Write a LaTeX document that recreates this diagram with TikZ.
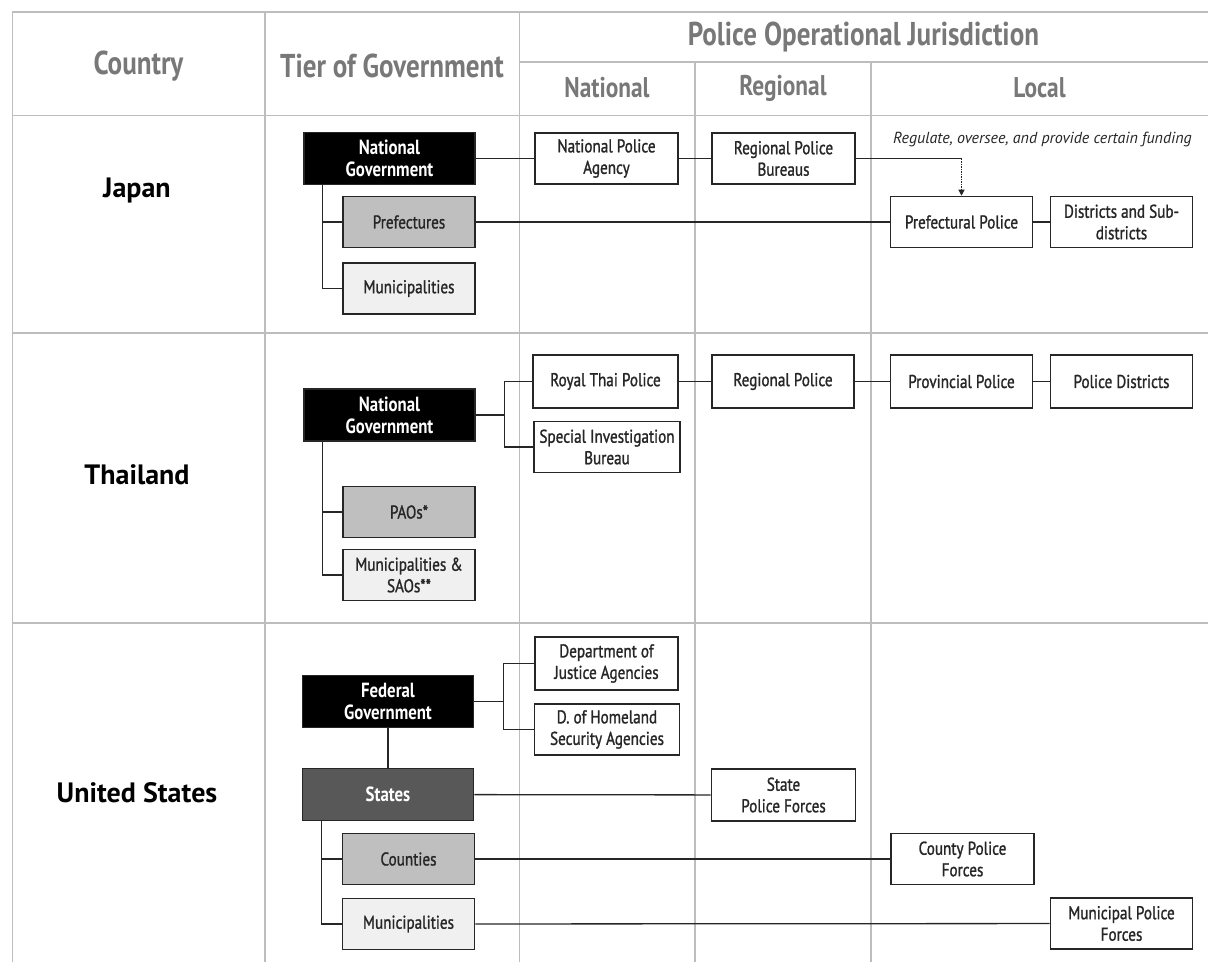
\documentclass[tikz,border=0pt]{standalone}
\usepackage{fontspec}
\setmainfont{PT Sans}[FakeStretch=0.82]
\newfontfamily\boxfont{PT Sans}[FakeStretch=0.82, FakeBold=1.2]
\newfontfamily\widefont{PT Sans}
\usepackage{xcolor}
\usetikzlibrary{arrows.meta}
\definecolor{gridgrey}{HTML}{BDBDBD}
\definecolor{hdrgrey}{HTML}{787878}
\definecolor{midgrey}{HTML}{BFBFBF}
\definecolor{palegrey}{HTML}{F0F0F0}
\definecolor{darkgrey}{HTML}{585858}
\definecolor{inkgrey}{HTML}{262626}
\tikzset{
    gridline/.style={draw=gridgrey, line width=1.6pt},
    header/.style={text=hdrgrey, font=\bfseries\fontsize{33}{36}\selectfont},
    subheader/.style={text=hdrgrey, font=\bfseries\fontsize{28.5}{31}\selectfont},
    country/.style={font=\widefont\bfseries\fontsize{28}{31}\selectfont},
    box/.style={draw=inkgrey, line width=1.6pt, align=center, inner sep=0pt,
        text=inkgrey, font=\boxfont\fontsize{18.5}{21.5}\selectfont, minimum height=51pt},
    agency/.style={box, fill=white, minimum width=143pt},
    gov/.style={box, fill=black, text=white, font=\bfseries\fontsize{20.5}{22}\selectfont,
        minimum width=171pt, minimum height=52pt},
    tier/.style={box, minimum width=132pt},
    link/.style={line width=1.3pt, draw=inkgrey},
    note/.style={text=inkgrey, font=\widefont\itshape\fontsize{16}{18}\selectfont},
}

\begin{document}
\begin{tikzpicture}[x=1pt,y=-1pt]
    \useasboundingbox (0,0) rectangle (1208,962);
    \draw[gridline] (1208,12) -- (12.5,12) -- (12.5,962);
    \draw[gridline] (265,12) -- (265,962);
    \draw[gridline] (519.5,12) -- (519.5,962);
    \draw[gridline] (695,62) -- (695,962);
    \draw[gridline] (871,62) -- (871,962);
    \draw[gridline] (519.5,62) -- (1208,62);
    \draw[gridline] (12.5,115.5) -- (1208,115.5);
    \draw[gridline] (12.5,333) -- (1208,333);
    \draw[gridline] (12.5,623) -- (1208,623);

    \node[header] (hcountry) at (138.5,66) {Country};
    \node[header] (htier) at (392,66) {Tier of Government};
    \node[header] (hpoj) at (863.5,37) {Police Operational Jurisdiction};
    \node[subheader] (hnat) at (607,88) {National};
    \node[subheader] (hreg) at (783,88) {Regional};
    \node[subheader] (hloc) at (1039.5,88) {Local};

    % Japan
    \node[country] (japan) at (137,190) {Japan};
    \node[gov] (jng) at (389.5,158.5) {National\\Government};
    \node[tier, fill=midgrey] (jpref) at (409,222) {Prefectures};
    \node[tier, fill=palegrey] (jmun) at (409,288.5) {Municipalities};
    \node[agency] (npa) at (606.5,158.5) {National Police\\Agency};
    \node[agency] (rpb) at (783.5,158.5) {Regional Police\\Bureaus};
    \node[agency, minimum width=142pt] (ppol) at (961.5,222) {Prefectural Police};
    \node[agency, minimum width=142pt] (dist) at (1121.5,222) {Districts and Sub-\\districts};
    \node[note] (jnote) at (1042.5,139) {Regulate, oversee, and provide certain funding};

    \draw[link] ([xshift=19pt]jng.south west) |- (jpref.west);
    \draw[link] ([xshift=19pt]jng.south west) |- (jmun.west);
    \draw[link] (jng) -- (npa);
    \draw[link] (npa) -- (rpb);
    \draw[link] (rpb.east) -- (rpb.east -| ppol.north) coordinate (jturn);
    \draw[link, dash pattern=on 1.5pt off 1pt, -{Triangle[length=6pt,width=6pt]}] (jturn) -- (ppol.north);
    \draw[link] (jpref) -- (ppol);
    \draw[link] (ppol) -- (dist);

    % Thailand
    \node[country] (thailand) at (137,475) {Thailand};
    \node[gov] (tng) at (389.5,415) {National\\Government};
    \node[tier, fill=midgrey] (pao) at (409,512) {PAOs*};
    \node[tier, fill=palegrey] (tmun) at (409,575) {Municipalities \&\\SAOs**};
    \node[agency, minimum width=145pt, minimum height=53pt] (rtp) at (605.5,381.5) {Royal Thai Police};
    \node[agency, minimum width=146pt] (sib) at (607,447) {Special Investigation\\Bureau};
    \node[agency, minimum width=142pt, minimum height=53pt] (rpol) at (783,381.5) {Regional Police};
    \node[agency, minimum width=142pt, minimum height=53pt] (prov) at (961.5,381.5) {Provincial Police};
    \node[agency, minimum width=142pt, minimum height=53pt] (pdis) at (1121.5,381.5) {Police Districts};

    \draw[link] ([xshift=19pt]tng.south west) |- (pao.west);
    \draw[link] ([xshift=19pt]tng.south west) |- (tmun.west);
    \draw[link] (tng.east) -- ++(29,0) |- (rtp.west);
    \draw[link] (tng.east) -- ++(29,0) |- (sib.west);
    \draw[link] (rtp) -- (rpol);
    \draw[link] (rpol) -- (prov);
    \draw[link] (prov) -- (pdis);

    % United States
    \node[country] (usa) at (137,793) {United States};
    \node[gov] (fg) at (388,701.5) {Federal\\Government};
    \node[gov, fill=darkgrey] (states) at (388,794.5) {States};
    \node[tier, fill=midgrey] (cnty) at (408.5,859) {Counties};
    \node[tier, fill=palegrey] (umun) at (408.5,924) {Municipalities};
    \node[agency, minimum height=53pt] (doj) at (606.5,663.5) {Department of\\Justice Agencies};
    \node[agency, minimum width=145pt] (dhs) at (607,729.5) {D. of Homeland\\Security Agencies};
    \node[agency, minimum width=144pt, minimum height=52pt] (spf) at (783.5,795) {State\\Police Forces};
    \node[agency] (cpf) at (962.5,859) {County Police\\Forces};
    \node[agency, minimum width=142pt] (mpf) at (1121.5,923.5) {Municipal Police\\Forces};

    \draw[link] (fg) -- (states);
    \draw[link] (fg.east) -- ++(29,0) |- (doj.west);
    \draw[link] (fg.east) -- ++(29,0) |- (dhs.west);
    \draw[link] ([xshift=20pt]states.south west) |- (cnty.west);
    \draw[link] ([xshift=20pt]states.south west) |- (umun.west);
    \draw[link] (states) -- (spf);
    \draw[link] (cnty) -- (cpf);
    \draw[link] (umun) -- (mpf);
\end{tikzpicture}
\end{document}
